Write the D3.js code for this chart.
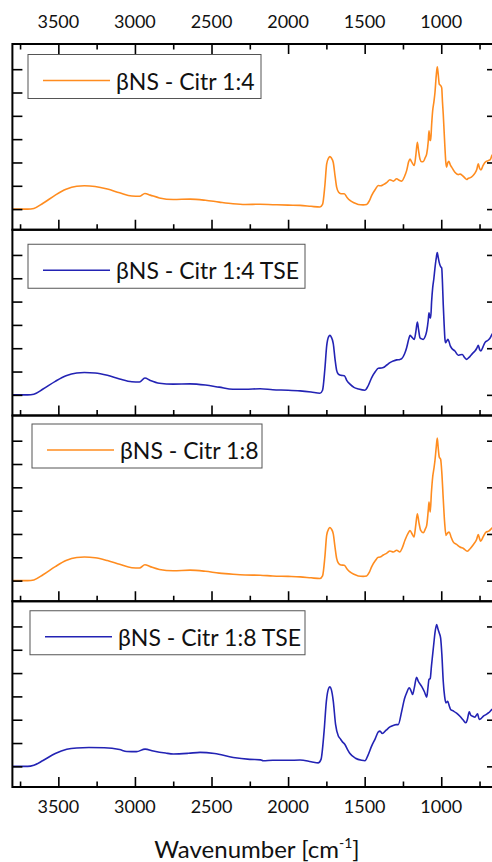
<!DOCTYPE html>
<html>
<head>
<meta charset="utf-8">
<script src="https://cdn.jsdelivr.net/npm/d3@7"></script>
<style>
  body { margin: 0; background: #fff; }
  text { font-family: Lato, "Open Sans", sans-serif; fill: #111; }
</style>
</head>
<body>
<svg id="chart" width="492" height="862"></svg>
<script>
// tick values (cm-1)
var majorTicks = [3500, 3000, 2500, 2000, 1500, 1000];
var minorTicks = [3750, 3250, 2750, 2250, 1750, 1250, 750];
var yTicks = [0, 1, 2, 3, 4, 5, 6];

var labels = ['βNS - Citr 1:4', 'βNS - Citr 1:4 TSE', 'βNS - Citr 1:8', 'βNS - Citr 1:8 TSE'];

// spectra, [wavenumber, absorbance (a.u.)]
var citr14 = [
  [3800,0],[3700,0],[3660,0.03],[3600,0.25],[3520,0.6],[3450,0.85],[3380,0.98],[3330,1.0],[3260,0.97],
  [3180,0.86],[3100,0.7],[3020,0.56],[2970,0.55],[2935,0.67],[2900,0.6],[2840,0.48],[2750,0.41],[2640,0.43],
  [2540,0.38],[2450,0.3],[2360,0.23],[2280,0.2],[2183,0.21],[2100,0.19],[2000,0.17],[1922,0.16],[1850,0.12],
  [1792,0.09],[1775,0.2],[1760,1.0],[1748,1.94],[1735,2.2],[1727,2.25],[1718,2.2],[1705,2.0],[1693,1.4],
  [1683,0.94],[1670,0.72],[1655,0.66],[1633,0.66],[1615,0.5],[1596,0.37],[1570,0.27],[1542,0.2],[1510,0.18],
  [1487,0.2],[1470,0.35],[1454,0.59],[1430,0.85],[1411,1.01],[1395,1.0],[1378,1.05],[1355,1.15],[1335,1.26],
  [1313,1.2],[1291,1.3],[1275,1.24],[1258,1.2],[1240,1.4],[1226,1.65],[1212,2.05],[1204,2.15],[1195,2.05],
  [1176,1.87],[1166,2.3],[1156,2.86],[1148,2.5],[1139,2.15],[1128,2.03],[1117,2.04],[1105,2.2],[1095,2.37],
  [1085,2.9],[1080,3.36],[1073,2.95],[1069,2.94],[1063,3.6],[1056,4.22],[1048,4.6],[1041,5.0],[1033,5.7],
  [1026,6.1],[1020,5.8],[1013,5.36],[1004,5.3],[997,5.2],[992,4.6],[987,4.08],[981,3.3],[976,2.65],[970,2.0],
  [965,1.8],[957,2.0],[950,2.05],[941,1.9],[932,1.8],[911,1.58],[889,1.48],[876,1.5],[863,1.45],[848,1.35],
  [834,1.27],[823,1.32],[813,1.34],[795,1.42],[780,1.54],[768,1.7],[758,1.94],[750,1.75],[741,1.68],
  [728,1.85],[715,2.0],[693,2.08],[680,2.12],[669,2.3],[650,2.4]
];

var citr14tse = [
  [3800,0],[3700,0],[3660,0.03],[3600,0.25],[3520,0.58],[3450,0.82],[3380,0.94],[3330,0.96],[3260,0.94],
  [3180,0.84],[3100,0.68],[3020,0.56],[2970,0.55],[2935,0.72],[2900,0.62],[2840,0.5],[2750,0.46],[2640,0.47],
  [2540,0.42],[2450,0.33],[2360,0.24],[2280,0.24],[2183,0.26],[2100,0.22],[2000,0.2],[1922,0.17],[1850,0.12],
  [1792,0.07],[1775,0.2],[1760,1.1],[1748,2.1],[1735,2.5],[1727,2.55],[1718,2.48],[1705,2.2],[1693,1.5],
  [1683,1.05],[1672,0.89],[1655,0.84],[1633,0.82],[1615,0.6],[1596,0.46],[1570,0.32],[1540,0.25],[1498,0.2],
  [1480,0.35],[1454,0.74],[1430,1.0],[1411,1.14],[1390,1.15],[1378,1.17],[1355,1.28],[1335,1.38],[1313,1.45],
  [1291,1.5],[1270,1.52],[1258,1.55],[1240,1.75],[1226,2.02],[1212,2.4],[1204,2.55],[1195,2.5],[1176,2.38],
  [1166,2.7],[1156,3.12],[1148,2.8],[1139,2.45],[1128,2.4],[1117,2.38],[1105,2.5],[1095,2.73],[1085,3.2],
  [1080,3.52],[1073,3.3],[1069,3.3],[1063,4.0],[1056,4.59],[1048,5.0],[1041,5.44],[1033,5.85],[1026,6.1],
  [1020,5.9],[1013,5.67],[1004,5.5],[997,5.44],[992,4.8],[987,3.88],[981,3.0],[976,2.4],[972,2.24],[965,2.3],
  [957,2.38],[950,2.3],[941,2.1],[932,2.0],[911,1.88],[889,1.7],[876,1.72],[863,1.73],[848,1.6],[834,1.52],
  [823,1.58],[813,1.64],[795,1.78],[780,1.88],[768,2.0],[758,2.12],[750,1.95],[741,1.88],[728,2.05],
  [715,2.24],[693,2.35],[680,2.45],[669,2.59],[650,2.7]
];

var citr18 = [
  [3800,0],[3700,0],[3660,0.03],[3600,0.25],[3520,0.6],[3450,0.86],[3380,0.99],[3330,1.01],[3260,0.98],
  [3180,0.86],[3100,0.7],[3020,0.55],[2970,0.54],[2935,0.68],[2900,0.6],[2840,0.48],[2750,0.42],[2640,0.45],
  [2540,0.4],[2450,0.32],[2360,0.27],[2280,0.24],[2183,0.23],[2100,0.2],[2000,0.18],[1922,0.16],[1850,0.12],
  [1792,0.09],[1775,0.2],[1760,1.0],[1748,1.95],[1735,2.22],[1727,2.28],[1718,2.22],[1705,2.0],[1693,1.4],
  [1683,0.95],[1670,0.73],[1655,0.67],[1633,0.66],[1615,0.5],[1596,0.37],[1570,0.27],[1542,0.2],[1510,0.18],
  [1487,0.2],[1470,0.35],[1454,0.6],[1430,0.86],[1411,1.0],[1400,1.01],[1378,1.1],[1355,1.18],[1335,1.27],
  [1313,1.23],[1291,1.3],[1270,1.23],[1255,1.4],[1237,1.73],[1215,2.05],[1204,2.15],[1190,2.0],[1178,1.87],
  [1166,2.4],[1156,2.87],[1146,2.5],[1134,2.15],[1117,2.05],[1105,2.2],[1095,2.37],[1085,3.0],[1080,3.37],
  [1072,2.94],[1064,3.8],[1056,4.44],[1048,4.8],[1041,5.15],[1033,5.7],[1026,6.11],[1020,5.7],[1013,5.3],
  [1004,5.2],[996,4.6],[987,3.51],[978,2.5],[969,1.94],[958,2.05],[948,2.08],[935,1.85],[922,1.66],[900,1.55],
  [878,1.44],[855,1.38],[830,1.26],[810,1.38],[791,1.54],[770,1.75],[758,1.97],[750,1.8],[743,1.69],
  [725,1.9],[708,2.08],[690,2.12],[669,2.25],[650,2.35]
];

var citr18tse = [
  [3800,0],[3700,0],[3660,0.05],[3600,0.25],[3520,0.55],[3445,0.73],[3380,0.79],[3300,0.81],[3200,0.8],
  [3100,0.72],[3053,0.64],[2990,0.63],[2934,0.74],[2880,0.66],[2800,0.57],[2749,0.53],[2650,0.56],[2575,0.6],
  [2480,0.55],[2358,0.38],[2250,0.3],[2180,0.28],[2162,0.24],[2100,0.26],[2000,0.26],[1922,0.27],[1850,0.2],
  [1803,0.15],[1785,0.3],[1765,1.5],[1750,2.8],[1735,3.35],[1727,3.41],[1718,3.3],[1705,2.8],[1690,1.8],
  [1672,1.3],[1661,1.2],[1645,1.05],[1630,0.95],[1610,0.7],[1596,0.55],[1560,0.35],[1520,0.26],[1498,0.24],
  [1480,0.45],[1454,0.88],[1430,1.2],[1411,1.48],[1400,1.51],[1385,1.41],[1360,1.55],[1335,1.69],[1310,1.76],
  [1295,1.79],[1281,1.79],[1258,2.37],[1240,2.9],[1226,3.15],[1209,3.37],[1198,3.25],[1187,3.08],[1175,3.4],
  [1161,3.82],[1150,3.65],[1128,3.43],[1110,3.2],[1095,2.97],[1088,3.3],[1080,3.73],[1072,3.77],[1064,4.3],
  [1056,4.8],[1048,5.3],[1041,5.72],[1030,6.08],[1022,5.9],[1013,5.72],[1004,5.5],[996,4.8],[987,3.65],
  [978,3.0],[969,2.72],[958,2.79],[948,2.6],[939,2.44],[920,2.37],[900,2.28],[878,2.15],[858,2.0],[839,1.87],
  [830,2.0],[817,2.34],[808,2.2],[795,2.15],[780,2.11],[770,2.2],[763,2.25],[752,2.01],[740,2.05],[725,2.15],
  [708,2.22],[690,2.3],[669,2.44],[650,2.5]
];

var series = [citr14, citr14tse, citr18, citr18tse];
var colors = ['#ff8c1f', '#2323b4', '#ff8c1f', '#2323b4'];

// layout
var plotLeft = 12.4, plotRight = 497, plotTop = 44, plotBottom = 787;
var panelH = (plotBottom - plotTop) / 4;
// legend boxes: x, offset from panel top, width
var legendBoxes = [[28, 10.5, 233], [28, 14.5, 277], [32, 8.5, 230], [30, 9.5, 275]];

var svg = d3.select('#chart');

var x = d3.scaleLinear().domain([3800, 636]).range([plotLeft, plotRight]);

var line = d3.line()
  .x(function(d) { return x(d[0]); })
  .curve(d3.curveMonotoneX);

series.forEach(function(data, i) {
  var y0 = plotTop + i * panelH, y1 = y0 + panelH;
  var y = d3.scaleLinear().domain([-0.885, 7.08]).range([y1, y0]);
  var g = svg.append('g');

  g.append('clipPath').attr('id', 'clip' + i)
    .append('rect').attr('x', plotLeft).attr('y', y0).attr('width', plotRight - plotLeft).attr('height', panelH);

  g.append('path')
    .datum(data)
    .attr('clip-path', 'url(#clip' + i + ')')
    .attr('fill', 'none')
    .attr('stroke', colors[i])
    .attr('stroke-width', 1.6)
    .attr('stroke-linejoin', 'round')
    .attr('d', line.y(function(d) { return y(d[1]); }));

  // bottom edge ticks point up into the panel
  g.append('g').attr('class', 'ax').attr('transform', 'translate(0,' + y1 + ')')
    .call(d3.axisTop(x).tickValues(majorTicks).tickSize(10).tickFormat(''));
  g.append('g').attr('class', 'ax').attr('transform', 'translate(0,' + y1 + ')')
    .call(d3.axisTop(x).tickValues(minorTicks).tickSize(5.5).tickFormat(''));

  // left ticks inward
  g.append('g').attr('class', 'ax').attr('transform', 'translate(' + plotLeft + ',0)')
    .call(d3.axisRight(y).tickValues(yTicks).tickSize(10).tickFormat(''));
  // right ticks inward (only the major ones reach the visible area)
  g.append('g').attr('class', 'ax').attr('transform', 'translate(' + plotRight + ',0)')
    .call(d3.axisLeft(y).tickValues(yTicks.filter(function(v) { return v % 2 === 0; })).tickSize(10).tickFormat(''));
  g.append('g').attr('class', 'ax').attr('transform', 'translate(' + plotRight + ',0)')
    .call(d3.axisLeft(y).tickValues(yTicks.filter(function(v) { return v % 2 === 1; })).tickSize(5).tickFormat(''));

  g.append('rect')
    .attr('x', plotLeft).attr('y', y0).attr('width', plotRight - plotLeft).attr('height', panelH)
    .attr('fill', 'none').attr('stroke', '#000').attr('stroke-width', 2);

  // legend
  var lb = legendBoxes[i], ly = y0 + lb[1];
  g.append('rect')
    .attr('x', lb[0]).attr('y', ly).attr('width', lb[2]).attr('height', 44)
    .attr('fill', '#fff').attr('stroke', '#555').attr('stroke-width', 1);
  g.append('line')
    .attr('x1', lb[0] + 15).attr('x2', lb[0] + 82)
    .attr('y1', ly + 26).attr('y2', ly + 26)
    .attr('stroke', colors[i]).attr('stroke-width', 1.6);
  g.append('text')
    .attr('x', lb[0] + 88).attr('y', ly + 35)
    .style('font-size', '23px')
    .text(labels[i]);
});

// top edge ticks of the first panel point down
svg.append('g').attr('class', 'ax').attr('transform', 'translate(0,' + plotTop + ')')
  .call(d3.axisBottom(x).tickValues(majorTicks).tickSize(10).tickFormat(''));
svg.append('g').attr('class', 'ax').attr('transform', 'translate(0,' + plotTop + ')')
  .call(d3.axisBottom(x).tickValues(minorTicks).tickSize(5.5).tickFormat(''));

svg.selectAll('.ax .domain').remove();
svg.selectAll('.ax line').attr('stroke', '#000').attr('stroke-width', 1.6);

// tick labels, top and bottom
svg.selectAll('text.top-lab').data(majorTicks).enter().append('text')
  .attr('class', 'top-lab')
  .attr('x', function(d) { return x(d); }).attr('y', 27.5)
  .attr('text-anchor', 'middle').style('font-size', '18px')
  .text(function(d) { return d; });
svg.selectAll('text.bot-lab').data(majorTicks).enter().append('text')
  .attr('class', 'bot-lab')
  .attr('x', function(d) { return x(d); }).attr('y', 813)
  .attr('text-anchor', 'middle').style('font-size', '18px')
  .text(function(d) { return d; });

var title = svg.append('text')
  .attr('x', 257).attr('y', 858)
  .attr('text-anchor', 'middle').style('font-size', '24px');
title.append('tspan').text('Wavenumber [cm');
title.append('tspan').attr('dy', -10).style('font-size', '14px').text('-1');
title.append('tspan').attr('dy', 10).text(']');
</script>
</body>
</html>
